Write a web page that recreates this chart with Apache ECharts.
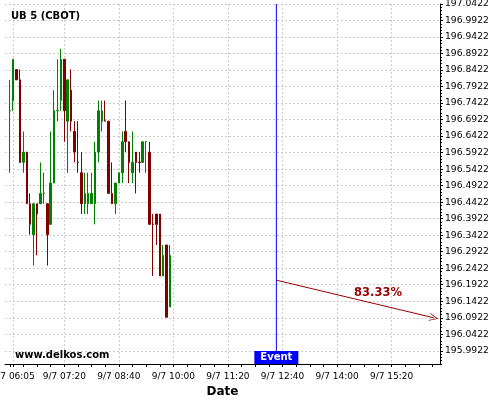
<!DOCTYPE html>
<html><head><meta charset="utf-8">
<script src="https://cdn.jsdelivr.net/npm/echarts@6.0.0/dist/echarts.min.js"></script>
<style>html,body{margin:0;padding:0;background:#fff}#c{width:500px;height:400px}</style>
</head><body><div id="c"></div>
<script>
const dayParts = [2023, 8, 7];
const times = ['06:00','06:05','06:10','06:15','06:20','06:25','06:30','06:35','06:40','06:45','06:50','06:55',
  '07:00','07:05','07:10','07:15','07:20','07:25','07:30','07:35','07:40','07:45','07:50','07:55',
  '08:00','08:05','08:10','08:15','08:20','08:25','08:30','08:35','08:40','08:45','08:50','08:55',
  '09:00','09:05','09:10','09:15','09:20','09:25','09:30','09:35','09:40','09:45','09:50','09:55'];
const opens = [196.71875,196.75,196.84375,196.8125,196.5625,196.59375,196.4375,196.34375,196.4375,196.4375,196.46875,196.4375,
  196.375,196.5,196.71875,196.75,196.875,196.6875,196.78125,196.65625,196.5635,196.53125,196.4375,196.4375,
  196.4375,196.4375,196.59375,196.6875,196.6885,196.6875,196.46875,196.4375,196.5,196.53125,196.65625,196.625,
  196.53125,196.59375,196.5635,196.5625,196.625,196.59375,196.376,196.40625,196.40625,196.21875,196.3125,196.125];
const closes = [196.71975,196.875,196.8125,196.5625,196.59375,196.4375,196.375,196.4375,196.40625,196.46875,196.46975,196.34375,
  196.5,196.71875,196.71975,196.875,196.71875,196.8125,196.6875,196.59375,196.5625,196.4375,196.46875,196.46875,
  196.46875,196.59375,196.71875,196.71875,196.6875,196.46875,196.4375,196.5,196.53125,196.625,196.625,196.5625,
  196.5625,196.5625,196.5625,196.625,196.626,196.375,196.375,196.375,196.21875,196.28125,196.09375,196.28125];
const lows = [196.53125,196.71875,196.8125,196.5625,196.53125,196.4375,196.34375,196.25,196.28125,196.4375,196.4375,196.25,
  196.375,196.5,196.6875,196.71875,196.625,196.53125,196.65625,196.5625,196.53125,196.40625,196.40625,196.40625,
  196.4375,196.375,196.5625,196.65625,196.6875,196.46875,196.4375,196.40625,196.5,196.5,196.59375,196.5,
  196.5,196.46875,196.53125,196.5625,196.53125,196.375,196.21875,196.3125,196.21875,196.21875,196.09375,196.125];
const highs = [196.8125,196.875,196.84375,196.84375,196.65625,196.59375,196.46875,196.4375,196.4375,196.5625,196.53125,196.4375,
  196.65625,196.78125,196.875,196.90625,196.875,196.8125,196.84375,196.6875,196.6875,196.59375,196.53125,196.53125,
  196.53125,196.625,196.75,196.75,196.75,196.6875,196.5625,196.5,196.53125,196.65625,196.75,196.625,
  196.65625,196.59375,196.59375,196.625,196.626,196.625,196.40625,196.40625,196.40625,196.3125,196.3125,196.3125];
const xTickLabels = ['06:05','07:20','08:40','10:00','11:20','12:40','14:00','15:20'];
const yTickLabels = [195.9922,196.0422,196.0922,196.1422,196.1922,196.2422,196.2922,196.3422,196.3922,196.4422,196.4922,
  196.5422,196.5922,196.6422,196.6922,196.7422,196.7922,196.8422,196.8922,196.9422,196.9922,197.0422];
const xRange = ['05:53','16:31'];
const yRange = [195.9522, 197.0422];
const eventTime = '12:31';
const arrowStart = ['12:31', 196.206];
const arrowEnd = ['16:22', 196.092];
const probText = '83.33%';
const probAt = ['15:00', 196.166];

function ts(hm){const p=hm.split(':').map(Number);return new Date(dayParts[0],dayParts[1],dayParts[2],p[0],p[1]).getTime();}
function pad(n){return (n<10?'0':'')+n;}
function fmt(v){const d=new Date(v);return (d.getMonth()+1)+'/'+d.getDate()+' '+pad(d.getHours())+':'+pad(d.getMinutes());}

const minorX=[]; for(let t=ts('06:00'); t<=ts('16:20'); t+=20*60000) minorX.push(t);
minorX.push(ts('06:05'));
const minorY=[]; for(let k=-4;k<=105;k++){const v=+(195.9922+k*0.01).toFixed(4); if(v>=yRange[0]&&v<=yRange[1]) minorY.push(v);}

const grid = '#cdcdcd';
const chart = echarts.init(document.getElementById('c'));
chart.setOption({
  animation:false,
  backgroundColor:'#fff',
  textStyle:{fontFamily:'DejaVu Sans'},
  title:[
    {text:'UB 5 (CBOT)',left:11,top:11,padding:0,textStyle:{fontSize:10,fontWeight:'bold',color:'#000',fontFamily:'DejaVu Sans'}},
    {text:'www.delkos.com',left:15,top:350,padding:0,textStyle:{fontSize:10,fontWeight:'bold',color:'#000',fontFamily:'DejaVu Sans'}}
  ],
  grid:{left:5,right:60,top:4,bottom:36,containLabel:false,outerBoundsMode:'none'},
  xAxis:[
    {type:'value',position:'bottom',min:ts(xRange[0]),max:ts(xRange[1]),scale:true,
     axisLine:{show:true,lineStyle:{color:'#000',width:1}},
     axisTick:{show:true,customValues:xTickLabels.map(ts),length:3,lineStyle:{color:'#000'}},
     axisLabel:{customValues:xTickLabels.map(ts),formatter:fmt,fontSize:9,color:'#000',margin:8,hideOverlap:false},
     splitLine:{show:true,lineStyle:{color:grid,type:[2,2],width:1}},
     minorSplitLine:{show:false},
     name:'Date',nameLocation:'middle',nameGap:19,nameTextStyle:{fontSize:12,fontWeight:'bold',color:'#000'}},
    {type:'value',position:'bottom',min:ts(xRange[0]),max:ts(xRange[1]),scale:true,
     axisLine:{show:false},axisTick:{show:true,customValues:minorX,length:3,lineStyle:{color:'#000'}},
     axisLabel:{show:false},splitLine:{show:false},splitArea:{show:false},minorSplitLine:{show:false}}
  ],
  yAxis:[
    {type:'value',position:'right',min:yRange[0],max:yRange[1],scale:true,
     axisLine:{show:true,lineStyle:{color:'#000',width:1}},
     axisTick:{show:true,customValues:yTickLabels,length:3,lineStyle:{color:'#000'}},
     axisLabel:{customValues:yTickLabels,formatter:v=>v.toFixed(4),fontSize:9.2,color:'#000',margin:5},
     splitLine:{show:true,lineStyle:{color:grid,type:[2,2],width:1}},minorSplitLine:{show:false}},
    {type:'value',position:'right',min:yRange[0],max:yRange[1],scale:true,
     axisLine:{show:false},axisTick:{show:true,customValues:minorY,length:2,lineStyle:{color:'#000'}},
     axisLabel:{show:false},splitLine:{show:false},splitArea:{show:false},minorSplitLine:{show:false}}
  ],
  series:[{
    type:'candlestick',xAxisIndex:0,yAxisIndex:0,
    data:times.map((t,i)=>[ts(t),opens[i],closes[i],lows[i],highs[i]]),
    barWidth:2,
    itemStyle:{color:'#008000',color0:'#800000',borderColor:'#008000',borderColor0:'#800000',borderWidth:1},
    markLine:{silent:true,animation:false,symbol:['none','none'],
      data:[
        [{coord:[ts(arrowStart[0]),arrowStart[1]],symbol:'none',lineStyle:{color:'#990000',width:1,type:'solid'}},
         {coord:[ts(arrowEnd[0]),arrowEnd[1]],symbol:'path://M0,10 L5,0 L10,10 L9,10 L5,2 L1,10 Z',symbolSize:[8,9],
          lineStyle:{color:'#990000',width:1,type:'solid'},label:{show:false}}]
      ]},
    markPoint:{silent:true,animation:false,
      data:[
        {coord:[ts(probAt[0]),probAt[1]],symbol:'circle',symbolSize:1,itemStyle:{color:'rgba(0,0,0,0)'},
         label:{show:true,position:'inside',formatter:probText,color:'#990000',fontWeight:'bold',fontSize:11.5}}
      ]}
  },{
    type:'line',xAxisIndex:0,yAxisIndex:0,name:'Event',silent:true,
    data:[[ts(eventTime),yRange[0]],[ts(eventTime),yRange[1]]],
    symbol:'none',color:'#0000ff',lineStyle:{color:'#0000ff',width:1,type:'solid'},z:3,
    markPoint:{silent:true,animation:false,
      data:[
        {coord:[ts(eventTime),yRange[0]],symbol:'rect',symbolSize:[44,13],symbolOffset:[0,-6.5],
         itemStyle:{color:'#0000ff'},
         label:{show:true,position:'inside',formatter:'Event',color:'#fff',fontWeight:'bold',fontSize:10}}
      ]}
  }]
});
</script></body></html>
